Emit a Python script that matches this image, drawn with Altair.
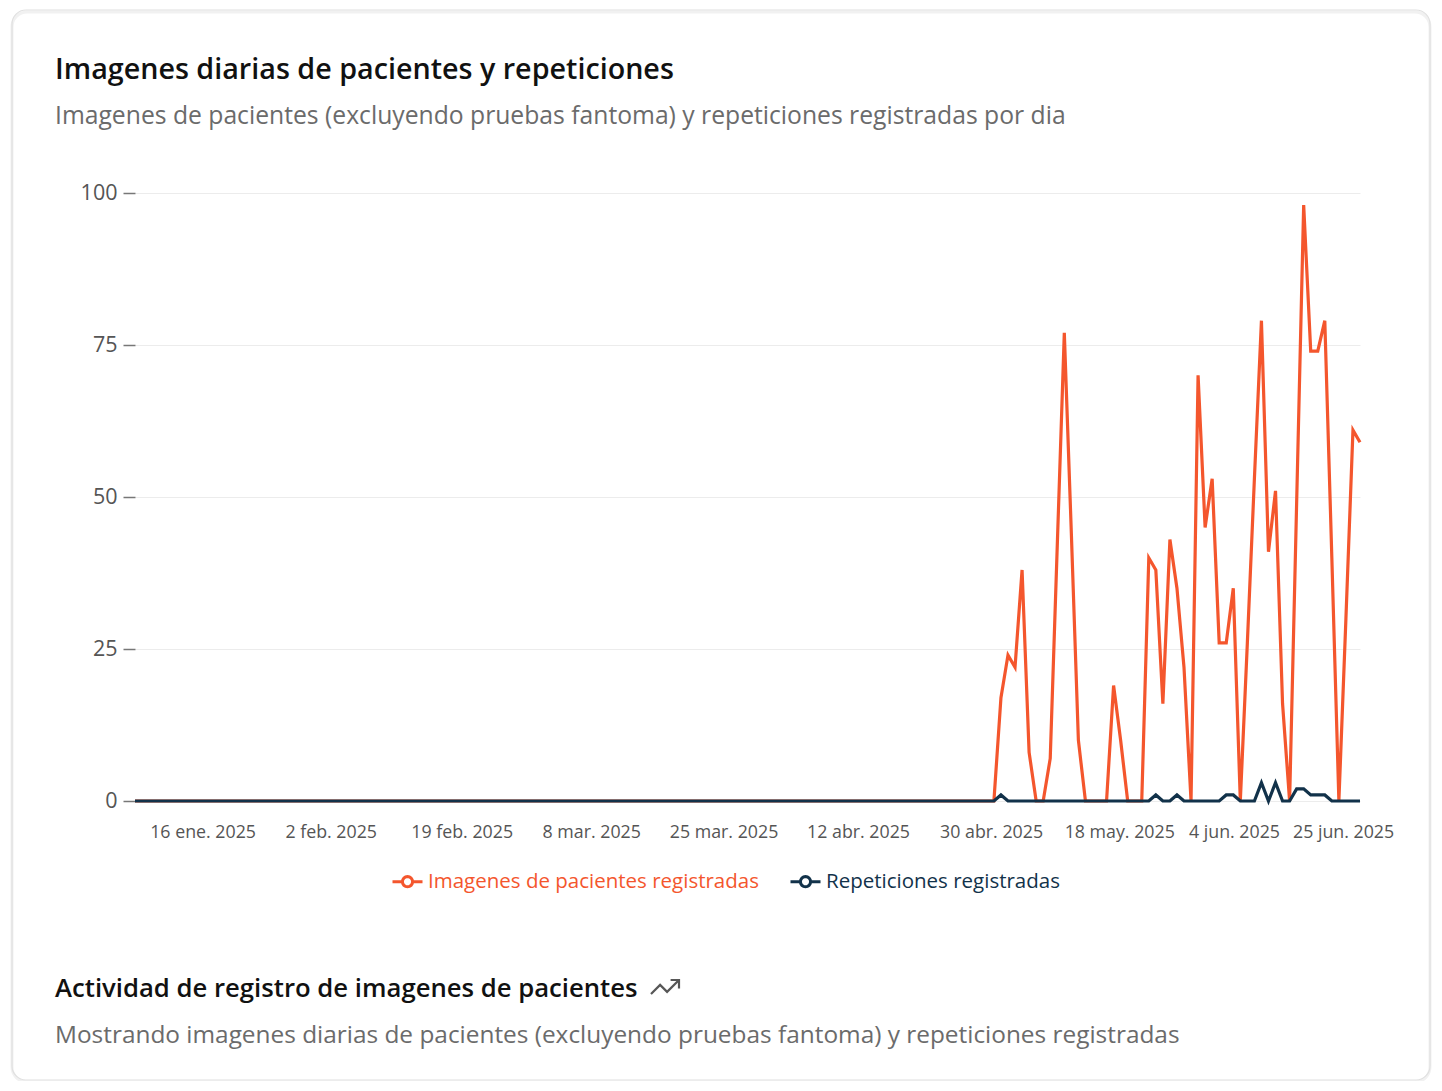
import json
import math
import altair as alt
import pandas as pd

FONT = "Open Sans"

TITLE = "Imagenes diarias de pacientes y repeticiones"
SUBTITLE = "Imagenes de pacientes (excluyendo pruebas fantoma) y repeticiones registradas por dia"
FOOTER_TITLE = "Actividad de registro de imagenes de pacientes"
FOOTER_TEXT = ("Mostrando imagenes diarias de pacientes (excluyendo pruebas fantoma) "
               "y repeticiones registradas")

SERIES = ["Imagenes de pacientes registradas", "Repeticiones registradas"]
COLORS = ["#f4562d", "#12324a"]

# 175 daily points; the first 122 are all zero for both series
N_POINTS = 175
QUIET_POINTS = 122
PATIENT_ACTIVE = [0, 17, 24, 22, 38, 8, 0, 0, 7, 42, 77, 44, 10, 0, 0, 0, 0,
                  19, 10, 0, 0, 0, 40, 38, 16, 43, 35, 22, 0, 70, 45, 53, 26,
                  26, 35, 0, 26, 53, 79, 41, 51, 16, 0, 49, 98, 74, 74, 79, 40,
                  0, 30, 61, 59]
REPEAT_ACTIVE = [0, 1, 0, 0, 0, 0, 0, 0, 0, 0, 0, 0, 0, 0, 0, 0, 0,
                 0, 0, 0, 0, 0, 0, 1, 0, 0, 1, 0, 0, 0, 0, 0, 0,
                 1, 1, 0, 0, 0, 3, 0, 3, 0, 0, 2, 2, 1, 1, 1, 0,
                 0, 0, 0, 0]

TICK_POS = [9.6, 27.8, 46.4, 64.8, 83.6, 102.7, 121.6, 139.8, 156.1, 171.6]
TICK_LABELS = ["16 ene. 2025", "2 feb. 2025", "19 feb. 2025", "8 mar. 2025",
               "25 mar. 2025", "12 abr. 2025", "30 abr. 2025", "18 may. 2025",
               "4 jun. 2025", "25 jun. 2025"]
Y_TICKS = [0, 25, 50, 75, 100]

patients = [0] * QUIET_POINTS + PATIENT_ACTIVE
repeats = [0] * QUIET_POINTS + REPEAT_ACTIVE
rows = ([{"dia": i, "valor": v, "serie": SERIES[0]} for i, v in enumerate(patients)] +
        [{"dia": i, "valor": v, "serie": SERIES[1]} for i, v in enumerate(repeats)])
df = pd.DataFrame(rows)

# legend symbol: line with a hollow circle in the middle
r = 0.34
circ = " ".join(
    ("M" if k == 0 else "L") + f"{r*math.cos(2*math.pi*k/16):.3f},{r*math.sin(2*math.pi*k/16):.3f}"
    for k in range(17))
LEGEND_SYMBOL = f"M-1,0L{-r},0 M{r},0L1,0 " + circ
TREND_ICON = "M-1,0.5L-0.35,-0.15L0.15,0.35L1,-0.5M0.4,-0.5L1,-0.5L1,0.1"

label_expr = f"{json.dumps(TICK_LABELS)}[indexof({json.dumps(TICK_POS)}, datum.value)]"

x_enc = alt.X("dia:Q",
              scale=alt.Scale(domain=[0, N_POINTS - 1], nice=False, zero=False),
              axis=alt.Axis(values=TICK_POS, labelExpr=label_expr, ticks=False,
                            domain=False, grid=False, title=None, labelFont=FONT,
                            labelFontSize=17.8, labelColor="#555555",
                            labelPadding=22, labelOverlap=False, labelFlush=False))
y_enc = alt.Y("valor:Q",
              scale=alt.Scale(domain=[0, 100], nice=False),
              axis=alt.Axis(values=Y_TICKS, tickSize=12, tickColor="#777777",
                            tickWidth=1.5, domain=False, gridColor="#ececec",
                            gridWidth=1, title=None, labelFont=FONT,
                            labelFontSize=21.5, labelColor="#555555", labelPadding=6))
color_enc = alt.Color(
    "serie:N",
    scale=alt.Scale(domain=SERIES, range=COLORS),
    legend=alt.Legend(orient="none", legendX=256, legendY=672, direction="horizontal",
                      title=None, symbolType=LEGEND_SYMBOL, symbolSize=900,
                      symbolStrokeWidth=3, labelFont=FONT, labelFontSize=20.5,
                      labelOffset=4, columnPadding=25, padding=0, labelLimit=800,
                      labelColor=alt.ExprRef(
                          f"datum.value == '{SERIES[1]}' ? '{COLORS[1]}' : '{COLORS[0]}'")))

base = alt.Chart(df)
line_patients = base.transform_filter(alt.datum.serie == SERIES[0]).mark_line(
    strokeWidth=3.2).encode(x=x_enc, y=y_enc, color=color_enc)
line_repeats = base.transform_filter(alt.datum.serie == SERIES[1]).mark_line(
    strokeWidth=3.2).encode(x=x_enc, y=y_enc, color=color_enc)

one = alt.Data(values=[{"t": 1}])
card_shadow = alt.Chart(one).mark_rect(cornerRadius=15, fillOpacity=0, stroke="#f1f1f1",
                                       strokeWidth=3).encode(
    x=alt.value(-123), x2=alt.value(1295), y=alt.value(-181), y2=alt.value(889))
card = alt.Chart(one).mark_rect(cornerRadius=14, fillOpacity=0, stroke="#e0e0e0",
                                strokeWidth=1.2).encode(
    x=alt.value(-123), x2=alt.value(1295), y=alt.value(-183), y2=alt.value(887))


def text_layer(txt, y, size, color, weight="normal"):
    return alt.Chart(alt.Data(values=[{"t": txt}])).mark_text(
        align="left", baseline="alphabetic", font=FONT, fontSize=size,
        fontWeight=weight, color=color).encode(
        x=alt.value(-80), y=alt.value(y), text="t:N")


title = text_layer(TITLE, -114, 28.7, "#111111", 600)
subtitle = text_layer(SUBTITLE, -69, 24.7, "#6b6b6b")
footer_title = text_layer(FOOTER_TITLE, 804, 25.7, "#111111", 600)
footer_text = text_layer(FOOTER_TEXT, 850, 24.4, "#6b6b6b")
icon = alt.Chart(one).mark_point(shape=TREND_ICON, filled=False, size=784,
                                 strokeWidth=2.2, color="#111111").encode(
    x=alt.value(530), y=alt.value(794))

chart = alt.layer(card_shadow, card, line_patients, line_repeats, title, subtitle,
                  footer_title, footer_text, icon).properties(
    width=1225, height=608,
    background="white",
    autosize=alt.AutoSizeParams(type="none"),
    padding={"left": 127, "top": 185, "right": 72, "bottom": 280},
).configure_view(stroke="transparent", strokeWidth=0)

chart.save("out.html", embed_options={"renderer": "svg", "actions": False})
